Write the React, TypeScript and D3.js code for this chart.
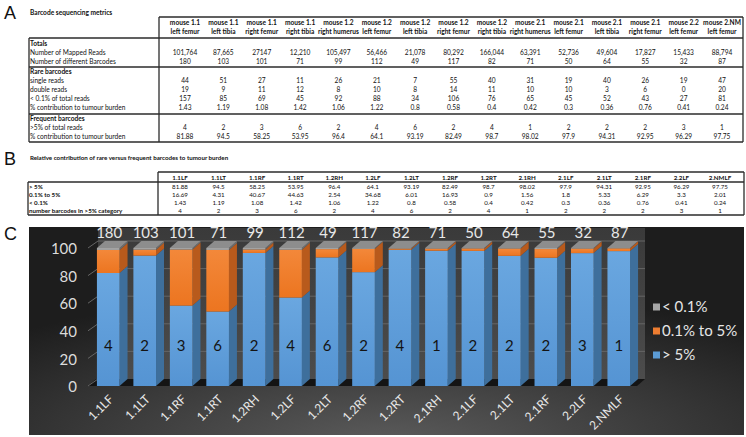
import React from 'react';
import * as d3 from 'd3';

// ---------- DATA ----------
const samples = ['1.1LF','1.1LT','1.1RF','1.1RT','1.2RH','1.2LF','1.2LT','1.2RF','1.2RT','2.1RH','2.1LF','2.1LT','2.1RF','2.2LF','2.NMLF'];
const headerMouse = ['mouse 1.1','mouse 1.1','mouse 1.1','mouse 1.1','mouse 1.2','mouse 1.2','mouse 1.2','mouse 1.2','mouse 1.2','mouse 2.1','mouse 2.1','mouse 2.1','mouse 2.1','mouse 2.2','mouse 2.NM'];
const headerSite = ['left femur','left tibia','right femur','right tibia','right humerus','left femur','left tibia','right femur','right tibia','right humerus','left femur','left tibia','right femur','left femur','left femur'];
const mappedReads = ['101,764','87,665','27147','12,210','105,497','56,466','21,078','80,292','166,044','63,391','52,736','49,604','17,827','15,433','88,794'];
const nBarcodes = [180,103,101,71,99,112,49,117,82,71,50,64,55,32,87];
const singleReads = [44,51,27,11,26,21,7,55,40,31,19,40,26,19,47];
const doubleReads = [19,9,11,12,8,10,8,14,11,10,10,3,6,0,20];
const lowCount = [157,85,69,45,92,88,34,106,76,65,45,52,43,27,81];
const pctLow = [1.43,1.19,1.08,1.42,1.06,1.22,0.8,0.58,0.4,0.42,0.3,0.36,0.76,0.41,0.24];
const nHigh = [4,2,3,6,2,4,6,2,4,1,2,2,2,3,1];
const pctHigh = [81.88,94.5,58.25,53.95,96.4,64.1,93.19,82.49,98.7,98.02,97.9,94.31,92.95,96.29,97.75];
const pctMid = [16.69,4.31,40.67,44.63,2.54,34.68,6.01,16.93,0.9,1.56,1.8,5.33,6.29,3.3,2.01];
const yTicks = [0,20,40,60,80,100];
const legendLabels = ['< 0.1%','0.1% to 5%','> 5%'];
const seriesKeys = ['high','mid','low'];

// ---------- LAYOUT ----------
const W = 746, H = 437;
const FONT = 'Lato, "Open Sans", sans-serif';
const LINE = '#2b2b2b';

function TableA() {
  const col = d3.scalePoint<string>().domain(samples).range([185, 722]);
  const L = 29, R = 743, V = 159;
  const rows: { label: string; bold?: boolean; vals?: (string | number)[] }[] = [
    { label: 'Totals', bold: true },
    { label: 'Number of Mapped Reads', vals: mappedReads },
    { label: 'Number of different Barcodes', vals: nBarcodes },
    { label: 'Rare barcodes', bold: true },
    { label: 'single reads', vals: singleReads },
    { label: 'double reads', vals: doubleReads },
    { label: '< 0.1% of total reads', vals: lowCount },
    { label: '% contribution to tumour burden', vals: pctLow },
    { label: 'Frequent barcodes', bold: true },
    { label: '>5% of total reads', vals: nHigh },
    { label: '% contribution to tumour burden', vals: pctHigh },
  ];
  const rowY = [43.5, 52.5, 61.5, 72, 81, 90, 99, 108, 119, 128, 137];
  const fs = 6.6;
  return (
    <g fontFamily={FONT} fontSize={fs} fill="#111">
      <text x={4} y={19} fontSize={18} fontFamily='"Liberation Sans", Arial, sans-serif'>A</text>
      <text x={30} y={15} fontWeight="bold">Barcode sequencing metrics</text>
      {samples.map((s, i) => (
        <g key={s}>
          <text x={col(s)} y={25} textAnchor="middle" fontWeight="bold">{headerMouse[i]}</text>
          <text x={col(s)} y={34} textAnchor="middle" fontWeight="bold">{headerSite[i]}</text>
        </g>
      ))}
      {rows.map((r, ri) => (
        <g key={ri}>
          <text x={L + 1} y={rowY[ri]} dy="0.35em" fontWeight={r.bold ? 'bold' : 'normal'}>{r.label}</text>
          {r.vals && samples.map((s, i) => (
            <text key={s} x={col(s)} y={rowY[ri]} dy="0.35em" textAnchor="middle">{r.vals![i]}</text>
          ))}
        </g>
      ))}
      <g stroke={LINE} strokeWidth={1.3} fill="none">
        <line x1={V} x2={R} y1={17} y2={17} />
        <line x1={V} x2={V} y1={17} y2={142} />
        <line x1={R} x2={R} y1={17} y2={142} />
        <line x1={L} x2={L} y1={38} y2={142} />
        {[38, 67, 114, 142].map(yy => <line key={yy} x1={L} x2={R} y1={yy} y2={yy} />)}
      </g>
    </g>
  );
}

function TableB() {
  const col = d3.scalePoint<string>().domain(samples).range([180, 720]);
  const L = 28, R = 744, V = 158;
  const rows: { label: string; vals: (string | number)[] }[] = [
    { label: '> 5%', vals: pctHigh },
    { label: '0.1% to 5%', vals: pctMid },
    { label: '< 0.1%', vals: pctLow },
    { label: 'number barcodes in >5% category', vals: nHigh },
  ];
  const rowY = [187, 195, 203, 211];
  const fs = 6.2;
  return (
    <g fontFamily={FONT} fontSize={fs} fill="#111">
      <text x={4} y={165} fontSize={18} fontFamily='"Liberation Sans", Arial, sans-serif'>B</text>
      <text x={30} y={160} fontWeight="bold">Relative contribution of rare versus frequent barcodes to  tumour burden</text>
      {samples.map(s => (
        <text key={s} x={col(s)} y={177.5} dy="0.35em" textAnchor="middle" fontWeight="bold">{s}</text>
      ))}
      {rows.map((r, ri) => (
        <g key={ri}>
          <text x={L + 1} y={rowY[ri]} dy="0.35em" fontWeight="bold">{r.label}</text>
          {samples.map((s, i) => (
            <text key={s} x={col(s)} y={rowY[ri]} dy="0.35em" textAnchor="middle">{r.vals[i]}</text>
          ))}
        </g>
      ))}
      <g stroke={LINE} strokeWidth={1.3} fill="none">
        <line x1={V} x2={R} y1={172} y2={172} />
        <line x1={V} x2={V} y1={172} y2={215} />
        <line x1={R} x2={R} y1={172} y2={215} />
        <line x1={L} x2={L} y1={182} y2={215} />
        {[182, 215].map(yy => <line key={yy} x1={L} x2={R} y1={yy} y2={yy} />)}
      </g>
    </g>
  );
}

function Chart() {
  const box = { x: 29, y: 227, w: 715, h: 208 };
  const x = d3.scaleBand<string>().domain(samples).range([90, 637]).paddingInner(0.38).paddingOuter(0.19);
  const y = d3.scaleLinear().domain([0, 100]).range([386, 248]);
  const DX = 8, DY = -7;
  const bw = x.bandwidth();
  const table = samples.map((s, i) => ({ sample: s, high: pctHigh[i], mid: pctMid[i], low: pctLow[i] }));
  const stacked = d3.stack<any>().keys(seriesKeys)(table);
  const front: Record<string, string> = { high: 'url(#gBlue)', mid: 'url(#gOrange)', low: '#a3a3a3' };
  const side: Record<string, string> = { high: '#3e6f9c', mid: '#b85a1c', low: '#6e6e6e' };
  const legendColors = ['#a5a5a5', '#ed7d31', '#5b9bd5'];
  const [r0, r1] = x.range();
  const pts = (p: number[][]) => p.map(q => q.join(',')).join(' ');
  return (
    <g fontFamily={FONT}>
      <defs>
        <radialGradient id="gBg" cx="0.5" cy="1.05" r="0.75">
          <stop offset="0" stopColor="#5c5c5c" />
          <stop offset="1" stopColor="#1d1d1d" />
        </radialGradient>
        <linearGradient id="gWall" x1="0" y1="0" x2="0" y2="1">
          <stop offset="0" stopColor="#3a3a3a" />
          <stop offset="1" stopColor="#4c4c4c" />
        </linearGradient>
        <linearGradient id="gBlue" x1="0" y1="0" x2="0" y2="1">
          <stop offset="0" stopColor="#6aa7e0" />
          <stop offset="1" stopColor="#5594d3" />
        </linearGradient>
        <linearGradient id="gOrange" x1="0" y1="0" x2="0" y2="1">
          <stop offset="0" stopColor="#f3883a" />
          <stop offset="1" stopColor="#ec7520" />
        </linearGradient>
      </defs>
      <rect x={box.x} y={box.y} width={box.w} height={box.h} fill="url(#gBg)" />
      <text x={4} y={240} fontSize={18} fill="#111" fontFamily='"Liberation Sans", Arial, sans-serif'>C</text>
      {/* back wall */}
      <rect x={r0 + DX} y={box.y + 1} width={r1 - r0} height={y(0) + DY - box.y - 1} fill="url(#gWall)" />
      {/* floor */}
      <polygon points={pts([[r0 - 2, y(0)], [r1, y(0)], [r1 + DX, y(0) + DY], [r0 + DX - 2, y(0) + DY]])} fill="#141414" />
      {/* gridlines */}
      {yTicks.map(t => (
        <g key={t} stroke="#656565" strokeWidth={1}>
          {t > 0 && <line x1={r0 + DX} x2={r1 + DX} y1={y(t) + DY} y2={y(t) + DY} />}
          <line x1={r0 - 2} x2={r0 + DX} y1={y(t)} y2={y(t) + DY} />
        </g>
      ))}
      {yTicks.map(t => (
        <text key={t} x={77} y={y(t) + 1} dy="0.35em" textAnchor="end" fontSize={15} fill="#dcdcdc">{t}</text>
      ))}
      {/* bars */}
      {samples.map((s, i) => {
        const xl = x(s)!;
        const xr = xl + bw;
        const top = y(stacked[stacked.length - 1][i][1]);
        return (
          <g key={s}>
            {stacked.map(ser => {
              const v0 = ser[i][0], v1 = ser[i][1];
              const yt = y(v1), yb = y(v0);
              return (
                <g key={ser.key}>
                  <polygon points={pts([[xr, yt], [xr + DX, yt + DY], [xr + DX, yb + DY], [xr, yb]])} fill={side[ser.key]} />
                  <rect x={xl} y={yt} width={bw} height={yb - yt} fill={front[ser.key]} />
                </g>
              );
            })}
            <polygon points={pts([[xl, top], [xl + DX, top + DY], [xr + DX, top + DY], [xr, top]])} fill="#8d8d8d" />
            <text x={xl + bw / 2 + 1} y={y(100) + DY - 8} dy="0.35em" textAnchor="middle" fontSize={15} fill="#e8e8e8">{nBarcodes[i]}</text>
            <text x={xl + bw / 2} y={y(29)} dy="0.35em" textAnchor="middle" fontSize={15} fill="#141414">{nHigh[i]}</text>
            <text transform={`translate(${xl + bw / 2 + 3},${397}) rotate(-45)`} textAnchor="end" dy="0.35em" fontSize={12} fill="#e8e8e8">{s}</text>
          </g>
        );
      })}
      {/* legend */}
      {legendLabels.map((l, i) => (
        <g key={l} transform={`translate(653,${307 + i * 24})`}>
          <rect x={0} y={-3.5} width={7} height={7} fill={legendColors[i]} />
          <text x={9} y={0} dy="0.35em" fontSize={15} fill="#e6e6e6">{l}</text>
        </g>
      ))}
    </g>
  );
}

export default function App() {
  return (
    <svg width={W} height={H} viewBox={`0 0 ${W} ${H}`} style={{ position: 'absolute', left: 0, top: 0, background: '#fff' }}>
      <rect width={W} height={H} fill="#fff" />
      <TableA />
      <TableB />
      <Chart />
    </svg>
  );
}
